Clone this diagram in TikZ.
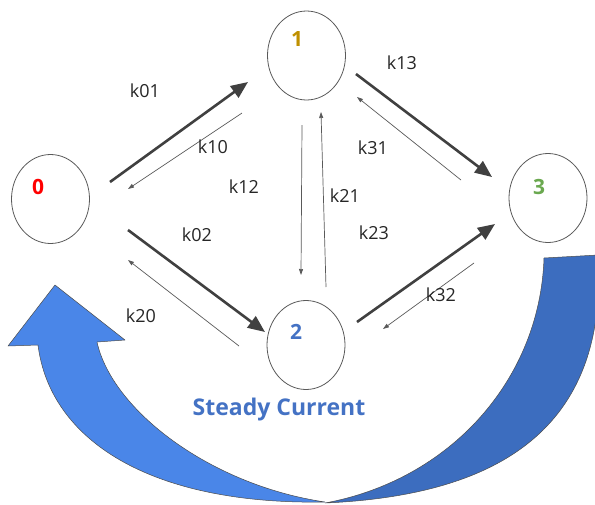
\documentclass[tikz,border=0pt]{standalone}
\usepackage{fontspec}
\setmainfont{Open Sans}
\usetikzlibrary{arrows.meta,shapes.geometric}
\definecolor{edgegray}{HTML}{595959}
\definecolor{heavygray}{HTML}{404040}
\definecolor{redzero}{HTML}{FF0000}
\definecolor{goldone}{HTML}{BF9000}
\definecolor{bluetwo}{HTML}{4472C4}
\definecolor{greenthree}{HTML}{6AA84F}
\definecolor{flowlight}{HTML}{4A86E8}
\definecolor{flowdark}{HTML}{3C6DBF}
\begin{document}
\begin{tikzpicture}[x=1pt,y=-1pt,
  state/.style={draw=edgegray, line width=0.8pt, ellipse, minimum width=78pt, minimum height=89pt, inner sep=0pt},
  statenum/.style={font=\fontsize{21}{21}\selectfont\bfseries},
  rate/.style={font=\fontsize{18}{18}\selectfont, text=black!85},
  fwd/.style={draw=heavygray, line width=2.6pt, -{Triangle[length=17pt,width=14pt]}},
  bwd/.style={draw=edgegray, line width=0.7pt, -{Triangle[length=6pt,width=4pt]}},
  flowedge/.style={draw=black!70, line width=0.5pt, line join=round}
]
\useasboundingbox (0,0) rectangle (595,504);

% states
\node[state] (n0) at (50.5,199) {};
\node[state] (n1) at (306.5,55.5) {};
\node[state] (n2) at (306,345) {};
\node[state] (n3) at (548,198) {};
\node[statenum,text=redzero]    (t0) at (38,187) {0};
\node[statenum,text=goldone]    (t1) at (297,39) {1};
\node[statenum,text=bluetwo]    (t2) at (296,332) {2};
\node[statenum,text=greenthree] (t3) at (539,187) {3};

% arrow end points
\coordinate (a01s) at (110,182); \coordinate (a01e) at (248,82);
\coordinate (a10s) at (242,113); \coordinate (a10e) at (128,189);
\coordinate (a02s) at (128,230); \coordinate (a02e) at (265,332);
\coordinate (a20s) at (239,346); \coordinate (a20e) at (128,260);
\coordinate (a12s) at (302,125); \coordinate (a12e) at (301,275);
\coordinate (a21s) at (326,287); \coordinate (a21e) at (321,112);
\coordinate (a13s) at (356,74);  \coordinate (a13e) at (492,177);
\coordinate (a31s) at (461,180); \coordinate (a31e) at (357,97);
\coordinate (a23s) at (357,322); \coordinate (a23e) at (495,224);
\coordinate (a32s) at (474,263); \coordinate (a32e) at (383,329);

% transitions
\draw[fwd] (a01s) -- (a01e);
\draw[bwd] (a10s) -- (a10e);
\draw[fwd] (a02s) -- (a02e);
\draw[bwd] (a20s) -- (a20e);
\draw[bwd] (a12s) -- (a12e);
\draw[bwd] (a21s) -- (a21e);
\draw[fwd] (a13s) -- (a13e);
\draw[bwd] (a31s) -- (a31e);
\draw[fwd] (a23s) -- (a23e);
\draw[bwd] (a32s) -- (a32e);

% rate labels
\node[rate] (l01) at (145,91)  {k01};
\node[rate] (l10) at (213,147) {k10};
\node[rate] (l12) at (244,187) {k12};
\node[rate] (l02) at (197,235) {k02};
\node[rate] (l20) at (141,316) {k20};
\node[rate] (l13) at (402,63)  {k13};
\node[rate] (l31) at (373,148) {k31};
\node[rate] (l21) at (345,196) {k21};
\node[rate] (l23) at (374,233) {k23};
\node[rate] (l32) at (441,295) {k32};

% circulating current: dark back band on the right
\path[flowedge, fill=flowdark]
  (544,258) -- (598,255)
  .. controls (608,420) and (510,495) .. (325,503)
  .. controls (450,480) and (540,380) .. (544,258) -- cycle;
% light front band with its head on the left
\path[flowedge, fill=flowlight]
  (55,285) -- (125,340) -- (97,342)
  .. controls (112,410) and (210,485) .. (325,502)
  .. controls (150,505) and (50,440) .. (38,345)
  -- (8,346) -- cycle;

\node[font=\fontsize{23}{23}\selectfont\bfseries, text=bluetwo, anchor=base] (sc) at (279,415) {Steady Current};
\end{tikzpicture}
\end{document}
